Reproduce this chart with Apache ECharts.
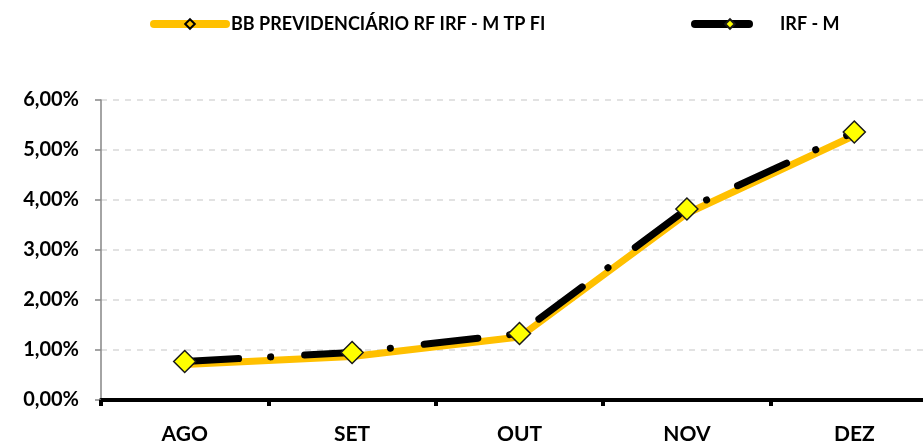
<!DOCTYPE html>
<html>
<head>
<meta charset="utf-8">
<script src="https://cdn.jsdelivr.net/npm/echarts@6/dist/echarts.min.js"></script>
<style>
  html, body { margin: 0; padding: 0; background: #fff; }
  #chart { width: 923px; height: 445px; }
</style>
</head>
<body>
<div id="chart"></div>
<script>
// meses
var meses = ['AGO', 'SET', 'OUT', 'NOV', 'DEZ']
// rentabilidade acumulada (%)
var fundo = [0.71, 0.87, 1.26, 3.73, 5.29]
var irfm = [0.77, 0.95, 1.33, 3.82, 5.36]

var fonte = 'Lato, "Open Sans", sans-serif'

var chart = echarts.init(document.getElementById('chart'))

chart.setOption({
  animation: false,
  legend: [
    {
      left: 145,
      top: 10,
      itemWidth: 72,
      itemHeight: 12,
      lineStyle: { width: 8, cap: 'round' },
      textStyle: { fontFamily: fonte, fontWeight: 'bold', fontSize: 18, color: '#000' },
      data: ['BB PREVIDENCIÁRIO RF IRF - M TP FI']
    },
    {
      left: 686,
      top: 10,
      itemWidth: 70,
      itemHeight: 12,
      lineStyle: { width: 8, cap: 'round' },
      textStyle: { fontFamily: fonte, fontWeight: 'bold', fontSize: 18, color: '#000', padding: [0, 0, 0, 10] },
      data: ['IRF - M']
    }
  ],
  grid: {
    left: 101,
    top: 100,
    right: -15,
    bottom: 45,
    outerBoundsMode: 'none'
  },
  xAxis: {
    type: 'category',
    data: meses,
    boundaryGap: true,
    axisLine: { lineStyle: { color: '#000', width: 4 } },
    axisTick: { show: true, length: 6, lineStyle: { color: '#000', width: 4 } },
    axisLabel: { fontFamily: fonte, fontWeight: 'bold', fontSize: 21, color: '#000', margin: 24 }
  },
  yAxis: {
    type: 'value',
    min: 0,
    max: 6,
    interval: 1,
    axisLine: { show: true, lineStyle: { color: '#868686', width: 1.5 } },
    axisTick: { show: true, length: 6, lineStyle: { color: '#868686', width: 1.5 } },
    axisLabel: {
      fontFamily: fonte,
      fontWeight: 'bold',
      fontSize: 20,
      color: '#000',
      margin: 22,
      formatter: function (v) { return v.toFixed(2).replace('.', ',') + '%' }
    },
    splitLine: { lineStyle: { color: '#d9d9d9', width: 1.5, type: [6, 6] } }
  },
  series: [
    {
      name: 'BB PREVIDENCIÁRIO RF IRF - M TP FI',
      type: 'line',
      data: fundo,
      z: 2,
      symbol: 'diamond',
      symbolSize: 8,
      itemStyle: { color: '#FFC000', borderColor: '#000', borderWidth: 1.5 },
      lineStyle: { color: '#FFC000', width: 7 }
    },
    {
      name: 'IRF - M',
      type: 'line',
      data: irfm,
      z: 3,
      symbol: 'diamond',
      symbolSize: 22,
      itemStyle: { color: '#FFFF00', borderColor: '#1a1a1a', borderWidth: 1.5 },
      lineStyle: { color: '#000', width: 7, cap: 'round', type: [54, 32, 0.1, 34] }
    }
  ]
})
</script>
</body>
</html>
